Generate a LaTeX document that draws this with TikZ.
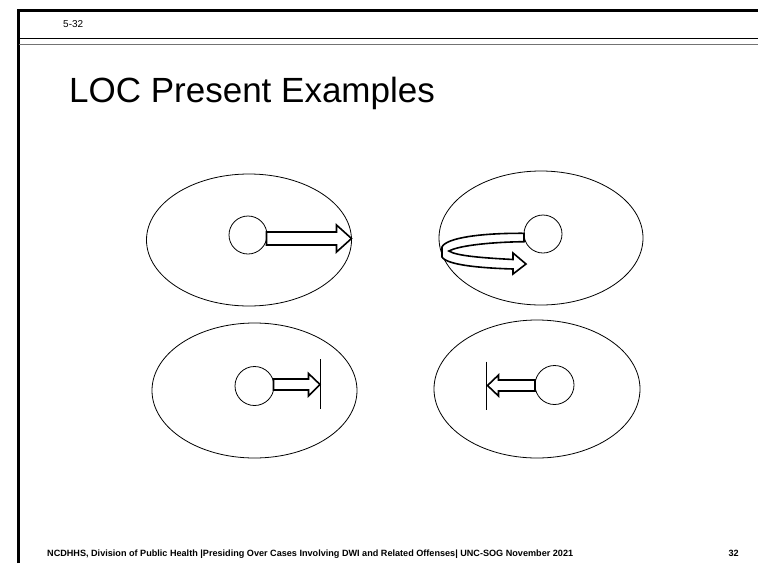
\documentclass[tikz,border=0pt]{standalone}
\usepackage{fontspec}
\setmainfont{Liberation Sans}
\usetikzlibrary{shapes.geometric}
\definecolor{rulegray}{rgb}{0.45,0.45,0.45}

\begin{document}
\begin{tikzpicture}[x=1pt,y=-1pt,
  zone/.style={draw,ellipse,line width=0.8pt,inner sep=0},
  dot/.style={draw,circle,line width=0.8pt,inner sep=0,minimum size=38pt},
  blockarrow/.style={draw,fill=white,line width=1.6pt,line join=miter},
  stopline/.style={line width=0.8pt}]
  \useasboundingbox (0,0) rectangle (758,563);

  % slide frame
  \draw[line width=3pt] (18,563) -- (18,10) -- (758,10);
  \draw[line width=1pt] (19,38.5) -- (758,38.5);
  \draw[line width=1pt,color=rulegray] (19,44.5) -- (758,44.5);
  \node[anchor=base west,inner sep=0,font=\fontsize{10}{12}\selectfont]
    (slideno) at (63,27) {5-32};
  \node[anchor=base west,inner sep=0,font=\fontsize{35}{40}\selectfont]
    (title) at (69,102) {LOC Present Examples};

  % top left: arrow reaches the edge
  \node[zone,minimum width=205pt,minimum height=132pt] (zoneA) at (249,240) {};
  \node[dot] (dotA) at (248,235) {};
  \draw[blockarrow] (266.5,232) -- (336.5,232) -- (336.5,225)
    -- (351.5,238.5) -- (336.5,252) -- (336.5,245) -- (266.5,245) -- cycle;

  % top right: arrow turns back
  \node[zone,minimum width=204pt,minimum height=134pt] (zoneB) at (541,238) {};
  \node[dot] (dotB) at (543,234) {};
  \draw[blockarrow] (524,233.3) .. controls (480,233) and (446,238) .. (442,247)
    -- (442,257) .. controls (447,265) and (480,268) .. (513,269)
    -- (513,274) -- (526,264) -- (513,253) -- (513,259.5)
    .. controls (485,258) and (456,256) .. (449,251)
    .. controls (460,245) and (495,242) .. (524,241.7) -- cycle;

  % bottom left: arrow stops at a line
  \node[zone,minimum width=205pt,minimum height=135pt] (zoneC) at (254.5,390.5) {};
  \node[dot,minimum size=39pt] (dotC) at (254.5,386) {};
  \draw[blockarrow] (273.5,379) -- (308.5,379) -- (308.5,373.5)
    -- (320,384.5) -- (308.5,396) -- (308.5,390) -- (273.5,390) -- cycle;
  \coordinate (stopC1) at (320,359);
  \coordinate (stopC2) at (320,408.5);
  \draw[stopline] (stopC1) -- (stopC2);

  % bottom right: arrow stops at a line
  \node[zone,minimum width=206pt,minimum height=138pt] (zoneD) at (537,389) {};
  \node[dot,minimum size=39pt] (dotD) at (554.5,385) {};
  \draw[blockarrow] (535,380) -- (498.5,380) -- (498.5,375)
    -- (487.5,385.5) -- (498.5,396) -- (498.5,391) -- (535,391) -- cycle;
  \coordinate (stopD1) at (486,361.5);
  \coordinate (stopD2) at (486,410);
  \draw[stopline] (stopD1) -- (stopD2);

  % footer
  \node[anchor=base west,inner sep=0,font=\bfseries\fontsize{9.1}{11}\selectfont]
    (footer) at (47,556) {NCDHHS, Division of Public Health |Presiding Over Cases Involving DWI and Related Offenses| UNC-SOG November 2021};
  \node[anchor=base east,inner sep=0,font=\bfseries\fontsize{9.1}{11}\selectfont]
    (pageno) at (739,556) {32};
\end{tikzpicture}
\end{document}
